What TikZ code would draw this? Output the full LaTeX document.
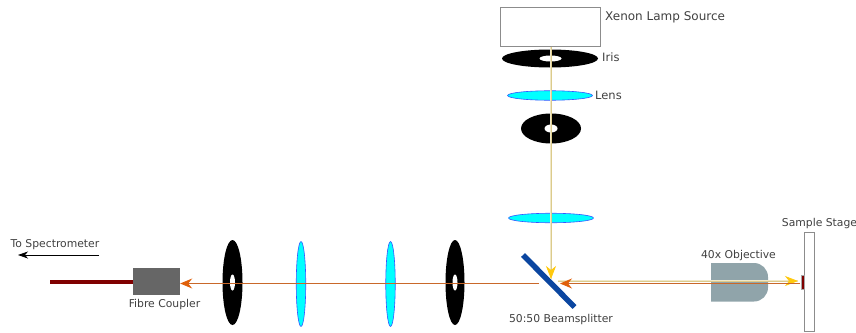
\documentclass[tikz,border=0pt]{standalone}
\usepackage{fontspec}
\setmainfont{DejaVu Sans}
\usetikzlibrary{shapes.geometric, arrows.meta, positioning}
\definecolor{beamyellow}{HTML}{FFC90E}
\definecolor{beampale}{HTML}{F0E8C8}
\definecolor{beamline}{HTML}{DCCB8C}
\definecolor{beamorange}{HTML}{C9682A}
\definecolor{tiporange}{HTML}{E0600A}
\definecolor{lenscyan}{HTML}{00FFFF}
\definecolor{lensblue}{HTML}{3355FF}
\definecolor{splitblue}{HTML}{0B46A0}
\definecolor{objgray}{HTML}{90A4AA}
\definecolor{fibrered}{HTML}{800000}

\begin{document}
\begin{tikzpicture}[
    x=1pt, y=-1pt,
    font=\fontsize{10.8}{12}\selectfont,
    disc/.style={ellipse, fill=black, inner sep=0pt},
    hole/.style={ellipse, fill=white, inner sep=0pt},
    lens/.style={ellipse, draw=lensblue, line width=0.6pt, fill=lenscyan, inner sep=0pt},
    box/.style={draw=gray!90, line width=1pt, fill=white, inner sep=0pt},
    lbl/.style={text=black!75, inner sep=0pt},
    paleray/.style={beampale, line width=2.2pt},
    yellowray/.style={beamline, line width=0.8pt},
    yellowtip/.style={-{Stealth[length=13pt, width=10pt, inset=4pt, color=beamyellow]}},
    orangeray/.style={beamorange, line width=0.9pt},
    orangetip/.style={-{Stealth[length=12pt, width=10pt, inset=4pt, color=tiporange]}}
]
\useasboundingbox (0,0) rectangle (856,332);

% Top arm
\node[box, minimum width=100pt, minimum height=39pt] (lamp) at (550,26.5) {};
\node[disc, minimum width=96pt, minimum height=18pt] (iristop) at (550,58.5) {};
\node[hole, minimum width=22pt, minimum height=6pt] (holetop) at (550.5,58.5) {};
\node[lens, minimum width=85pt, minimum height=9.5pt] (lenstop) at (550,95.5) {};
\node[disc, minimum width=60pt, minimum height=30pt] (irismid) at (551,128.5) {};
\node[hole, minimum width=13pt, minimum height=8pt] (holemid) at (551,128.5) {};
\node[lens, minimum width=85pt, minimum height=9.5pt] (lenslow) at (551,218) {};

% Bottom arm
\node[disc, minimum width=19pt, minimum height=85pt] (irisright) at (455,282.5) {};
\node[hole, minimum width=5pt, minimum height=16pt] (holeright) at (455,282.5) {};
\node[lens, minimum width=9.5pt, minimum height=85pt] (lensright) at (390.5,284) {};
\node[lens, minimum width=9.5pt, minimum height=85pt] (lensleft) at (301,284) {};
\node[disc, minimum width=20pt, minimum height=85pt] (irisleft) at (232.5,282.5) {};
\node[hole, minimum width=5pt, minimum height=16pt] (holeleft) at (232.5,282.5) {};
\node[fill=black!60, minimum width=47pt, minimum height=27pt, inner sep=0pt] (coupler) at (156.5,281.5) {};
\coordinate (fibreend) at (50,281.5);

% Objective and stage
\fill[objgray] (711,301.5) [sharp corners] -- (711,263) [rounded corners=14pt] -- (768,263) -- (768,301.5) [sharp corners] -- cycle;
\node[box, minimum width=10pt, minimum height=99pt] (stage) at (809.5,281.5) {};
\node[draw=gray!70, line width=0.5pt, fill=fibrered, minimum width=3pt, minimum height=14pt, inner sep=0pt] (sample) at (802.5,282) {};

% Beamsplitter
\coordinate (splittop) at (523,255);
\coordinate (splitend) at (574.5,307);
\draw[splitblue, line width=5.5pt] (splittop) -- (splitend);

% Rays
\coordinate (splitin) at (551,279);
\coordinate (splitout) at (558,281);
\coordinate (stagein) at (798,281);
\coordinate (sampleout) at (800,283.5);
\coordinate (splitback) at (560,283.5);
\coordinate (splitpass) at (539,283.5);
\draw[paleray] ([xshift=1pt]lamp.south) -- (splitin);
\draw[yellowray, yellowtip] ([xshift=1pt]lamp.south) -- (splitin);
\draw[paleray] (splitout) -- (stagein);
\draw[yellowray, yellowtip] (splitout) -- (stagein);
\draw[orangeray, orangetip] (sampleout) -- (splitback);
\draw[orangeray, orangetip] (splitpass) -- ([yshift=-2pt]coupler.east);

% Fibre
\draw[fibrered, line width=4pt] (fibreend) -- (coupler.west);
\coordinate (specstart) at (99,255);
\coordinate (specend) at (18,255);
\draw[-{Stealth[length=10pt, width=7pt, inset=3pt]}, line width=0.7pt] (specstart) -- (specend);

% Labels
\node[lbl, anchor=west, font=\fontsize{12}{14}\selectfont] (lamplbl) at (605,17) {Xenon Lamp Source};
\node[lbl, anchor=west, font=\fontsize{11.5}{14}\selectfont] (irislbl) at (602,57.5) {Iris};
\node[lbl, anchor=west, font=\fontsize{11.5}{14}\selectfont] (lenslbl) at (595,95.5) {Lens};
\node[lbl] (splitlbl) at (561,320) {50:50 Beamsplitter};
\node[lbl] (objlbl) at (738.5,256) {40x Objective};
\node[lbl] (stagelbl) at (819.5,223.5) {Sample Stage};
\node[lbl] (couplerlbl) at (164.5,304.5) {Fibre Coupler};
\node[lbl] (speclbl) at (55,244.5) {To Spectrometer};
\end{tikzpicture}
\end{document}
